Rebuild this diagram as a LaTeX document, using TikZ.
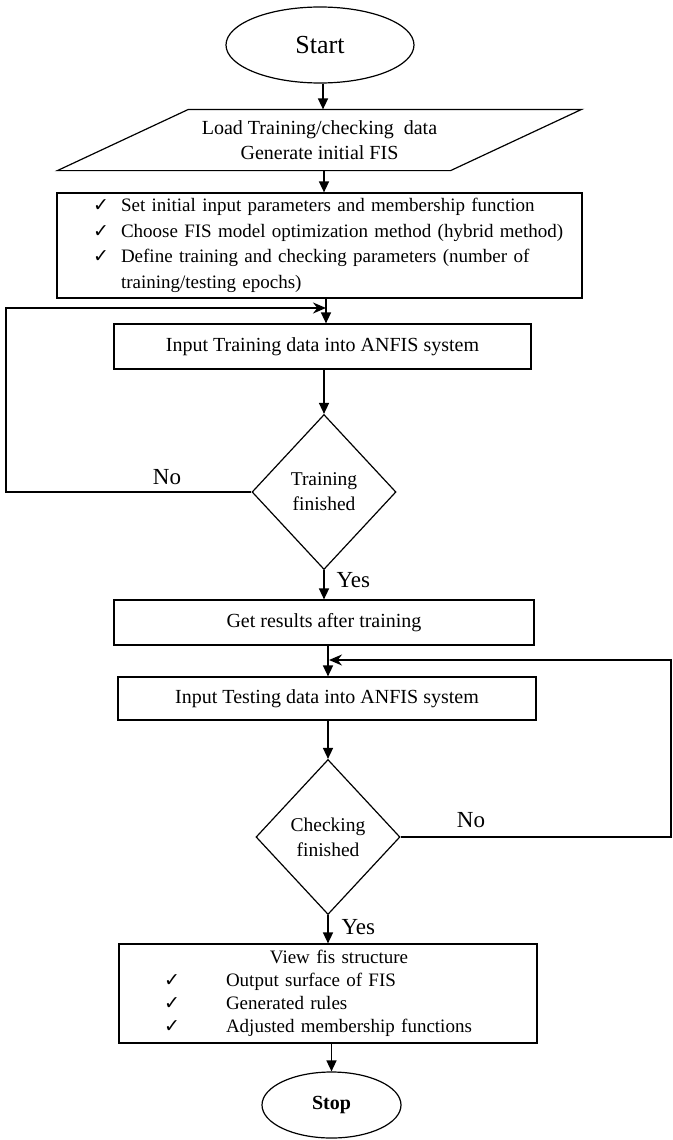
\documentclass[tikz,border=0pt]{standalone}
\usepackage{fontspec}
\setmainfont{Liberation Serif}
\newfontfamily\symf{DejaVu Sans}
\usetikzlibrary{shapes.geometric,arrows.meta}
\newcommand{\tickmk}{{\symf\fontsize{19}{19}\selectfont ✓}}
\begin{document}
\begin{tikzpicture}[x=1pt,y=-1pt,line width=1.2pt,
  box/.style={draw,rectangle,inner sep=0pt,font=\fontsize{20}{25}\selectfont},
  term/.style={draw,ellipse,inner sep=0pt},
  decision/.style={draw,diamond,inner sep=0pt,aspect=0.93,minimum width=144pt,minimum height=155pt,align=center,font=\fontsize{19.5}{25}\selectfont},
  flow/.style={line width=1.5pt,-{Triangle[length=11pt,width=10pt]}},
  back/.style={line width=1.5pt,-{Stealth[length=13pt,width=11pt]}},
  lbl/.style={inner sep=0pt,font=\fontsize{23}{26}\selectfont}]
\useasboundingbox (0,0) rectangle (672,1140);

% nodes
\node[term,minimum width=188pt,minimum height=76pt,font=\fontsize{26}{30}\selectfont] (start) at (320,45) {Start};
\node[rectangle,inner sep=0pt,minimum width=523pt,minimum height=60pt,align=center,font=\fontsize{20}{25}\selectfont] (load) at (319.5,140) {Load Training/checking\ \ data\\Generate initial FIS};
\draw ([xshift=131pt]load.north west) -- (load.north east) -- ([xshift=-131pt]load.south east) -- (load.south west) -- cycle;

\node[box,minimum width=525pt,minimum height=105pt,text width=507pt,align=left,font=\fontsize{19}{25.5}\selectfont] (box1) at (319.5,245.5) {%
\hspace*{27pt}\makebox[28pt][l]{\tickmk}Set initial input parameters and membership function\\
\hspace*{27pt}\makebox[28pt][l]{\tickmk}Choose FIS model optimization method (hybrid method)\\
\hspace*{27pt}\makebox[28pt][l]{\tickmk}Define training and checking parameters (number of\\
\hspace*{55pt}training/testing epochs)};

\node[box,minimum width=417pt,minimum height=45pt] (train) at (322.5,346.5) {Input Training data into ANFIS system};
\node[decision] (tdiam) at (324,492) {Training\\finished};
\node[box,minimum width=420pt,minimum height=45pt] (results) at (324,622.5) {Get results after training};
\node[box,minimum width=418pt,minimum height=43pt] (test) at (327,698.5) {Input Testing data into ANFIS system};
\node[decision] (cdiam) at (328,837) {Checking\\finished};

\node[box,minimum width=418pt,minimum height=99pt,text width=418pt,align=left,font=\fontsize{19}{23}\selectfont] (view) at (328,993.5) {%
\makebox[418pt][c]{\hspace*{22pt}View fis structure}\\
\hspace*{45pt}\makebox[62pt][l]{\tickmk}Output surface of FIS\\
\hspace*{45pt}\makebox[62pt][l]{\tickmk}Generated rules\\
\hspace*{45pt}\makebox[62pt][l]{\tickmk}Adjusted membership functions};

\node[term,minimum width=139pt,minimum height=66pt,font=\bfseries\fontsize{20}{24}\selectfont] (stop) at (331.5,1105) {Stop};

% labels
\node[lbl] (no1) at (167,477) {No};
\node[lbl,anchor=west] (yes1) at (336,580) {Yes};
\node[lbl] (no2) at (471,820) {No};
\node[lbl,anchor=west] (yes2) at (341,927) {Yes};

% junction coordinates
\coordinate (j1) at (326,308);
\coordinate (c1) at (6,492);
\coordinate (c2) at (6,308);
\coordinate (j2) at (329,660);
\coordinate (c3) at (671,837);
\coordinate (c4) at (671,660);

% connectors
\draw[flow] ([xshift=3pt]start.south) -- ([xshift=3pt]start.south |- load.north);
\draw[flow] ([xshift=4.5pt]load.south) -- ([xshift=4.5pt]load.south |- box1.north);
\draw[flow] (box1.south -| j1) -- (j1 |- train.north);
\draw[flow] (train.south -| tdiam.north) -- (tdiam.north);
\draw[flow] (tdiam.south) -- (tdiam.south |- results.north);
\draw[flow] (results.south -| cdiam.north) -- (cdiam.north |- test.north);
\draw[flow] (test.south -| cdiam.north) -- (cdiam.north);
\draw[flow] (cdiam.south) -- (cdiam.south |- view.north);
\draw[flow] (view.south -| stop.north) -- (stop.north);

\draw[back] (tdiam.west) -- (c1) -- (c2) -- (j1);
\draw[back] (cdiam.east) -- (c3) -- (c4) -- (j2);
\end{tikzpicture}
\end{document}
